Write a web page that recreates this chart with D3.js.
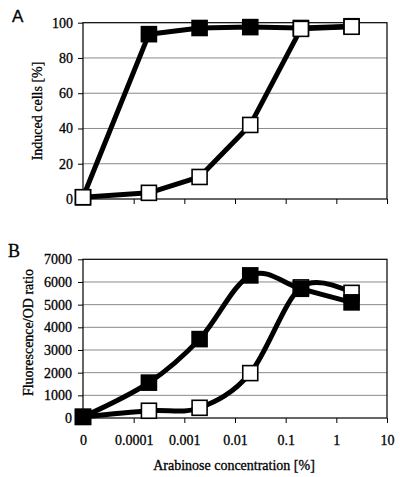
<!DOCTYPE html>
<html><head><meta charset="utf-8">
<script src="https://cdn.jsdelivr.net/npm/d3@7"></script>
<style>
html,body{margin:0;padding:0;background:#fff;}
svg{display:block;font-family:"Liberation Serif","Times New Roman",serif;}
svg text{stroke:#000;stroke-width:0.3px;}
</style></head>
<body><svg id="c" width="400" height="477"></svg>
<script>
// ---- data ----
const concentrations = [0, 0.0002, 0.002, 0.02, 0.2, 2];
const inducedFilled = [1, 93.5, 97, 97.5, 97, 98];
const inducedOpen   = [1, 3.5, 12.5, 42, 96.5, 97.7];
const fluorFilled = [50, 1560, 3480, 6290, 5700, 5100];
const fluorOpen   = [50, 320, 450, 1980, 5760, 5520];
const xTickValues = [0.00001, 0.0001, 0.001, 0.01, 0.1, 1, 10];
const xTickLabels = ["0", "0.0001", "0.001", "0.01", "0.1", "1", "10"];
const yTicksA = [0, 20, 40, 60, 80, 100];
const yTicksB = [0, 1000, 2000, 3000, 4000, 5000, 6000, 7000];

const svg = d3.select("#c");
const L = 83, R = 387;
const x = d3.scaleLog().domain([0.00001, 10]).range([L, R]);
const xv = v => x(v === 0 ? 0.00001 : v);

function panel(top, bottom, ymax, yticks, filled, open, curve, showXLabels, filledOnTop, labPad) {
  const y = d3.scaleLinear().domain([0, ymax]).range([bottom, top]);
  const g = svg.append("g");
  g.selectAll("line.grid").data(yticks.filter(t => t > 0 && t < ymax)).enter()
    .append("line").attr("x1", L).attr("x2", R)
    .attr("y1", d => y(d)).attr("y2", d => y(d))
    .attr("stroke", "#8a8a8a").attr("stroke-width", 1);
  g.append("rect").attr("x", L).attr("y", top).attr("width", R - L).attr("height", bottom - top)
    .attr("fill", "none").attr("stroke", "#000").attr("stroke-width", 1.2);
  const ya = g.append("g").attr("transform", `translate(${L},0)`)
    .call(d3.axisLeft(y).tickValues(yticks).tickSize(5).tickSizeOuter(0).tickPadding(labPad).tickFormat(d3.format("d")));
  ya.select(".domain").remove();
  ya.selectAll("text").attr("font-size", 14).attr("fill", "#000").attr("font-family", "Liberation Serif");
  const xa = g.append("g").attr("transform", `translate(0,${bottom})`)
    .call(d3.axisBottom(x).tickValues(xTickValues).tickSize(5).tickSizeOuter(0).tickPadding(12)
      .tickFormat((d, i) => showXLabels ? xTickLabels[i] : ""));
  xa.select(".domain").remove();
  xa.selectAll("text").attr("font-size", 14).attr("fill", "#000").attr("font-family", "Liberation Serif");

  const line = d3.line().x((d, i) => xv(concentrations[i])).y(d => y(d)).curve(curve);
  const draw = (vals, fill) => {
    const s = g.append("g");
    s.append("path").attr("d", line(vals)).attr("fill", "none").attr("stroke", "#000")
      .attr("stroke-width", 5).attr("stroke-linejoin", "round");
    s.selectAll("rect").data(vals).enter().append("rect")
      .attr("x", (d, i) => xv(concentrations[i]) - 7.5).attr("y", d => y(d) - 7.5)
      .attr("width", 15).attr("height", 15)
      .attr("fill", fill).attr("stroke", "#000").attr("stroke-width", 1.6);
  };
  if (filledOnTop) { draw(open, "#fff"); draw(filled, "#000"); }
  else { draw(filled, "#000"); draw(open, "#fff"); }
  return y;
}

panel(22.7, 199, 100, yTicksA, inducedFilled, inducedOpen, d3.curveLinear, false, false, 5);
panel(259.3, 418, 7000, yTicksB, fluorFilled, fluorOpen, d3.curveCardinal.tension(0), true, true, 6);

svg.append("text").attr("transform", "translate(42,111) rotate(-90)").attr("text-anchor", "middle")
  .attr("font-size", 14).text("Induced cells [%]");
svg.append("text").attr("transform", "translate(33,332.5) rotate(-90)").attr("text-anchor", "middle")
  .attr("font-size", 14).text("Fluorescence/OD ratio");
svg.append("text").attr("x", 234).attr("y", 470).attr("text-anchor", "middle")
  .attr("font-size", 14).text("Arabinose concentration [%]");
svg.append("text").attr("x", 12).attr("y", 22).attr("font-size", 17)
  .attr("font-family", "Liberation Sans, Arial, sans-serif").text("A");
svg.append("text").attr("x", 8).attr("y", 257).attr("font-size", 18).text("B");
</script></body></html>
